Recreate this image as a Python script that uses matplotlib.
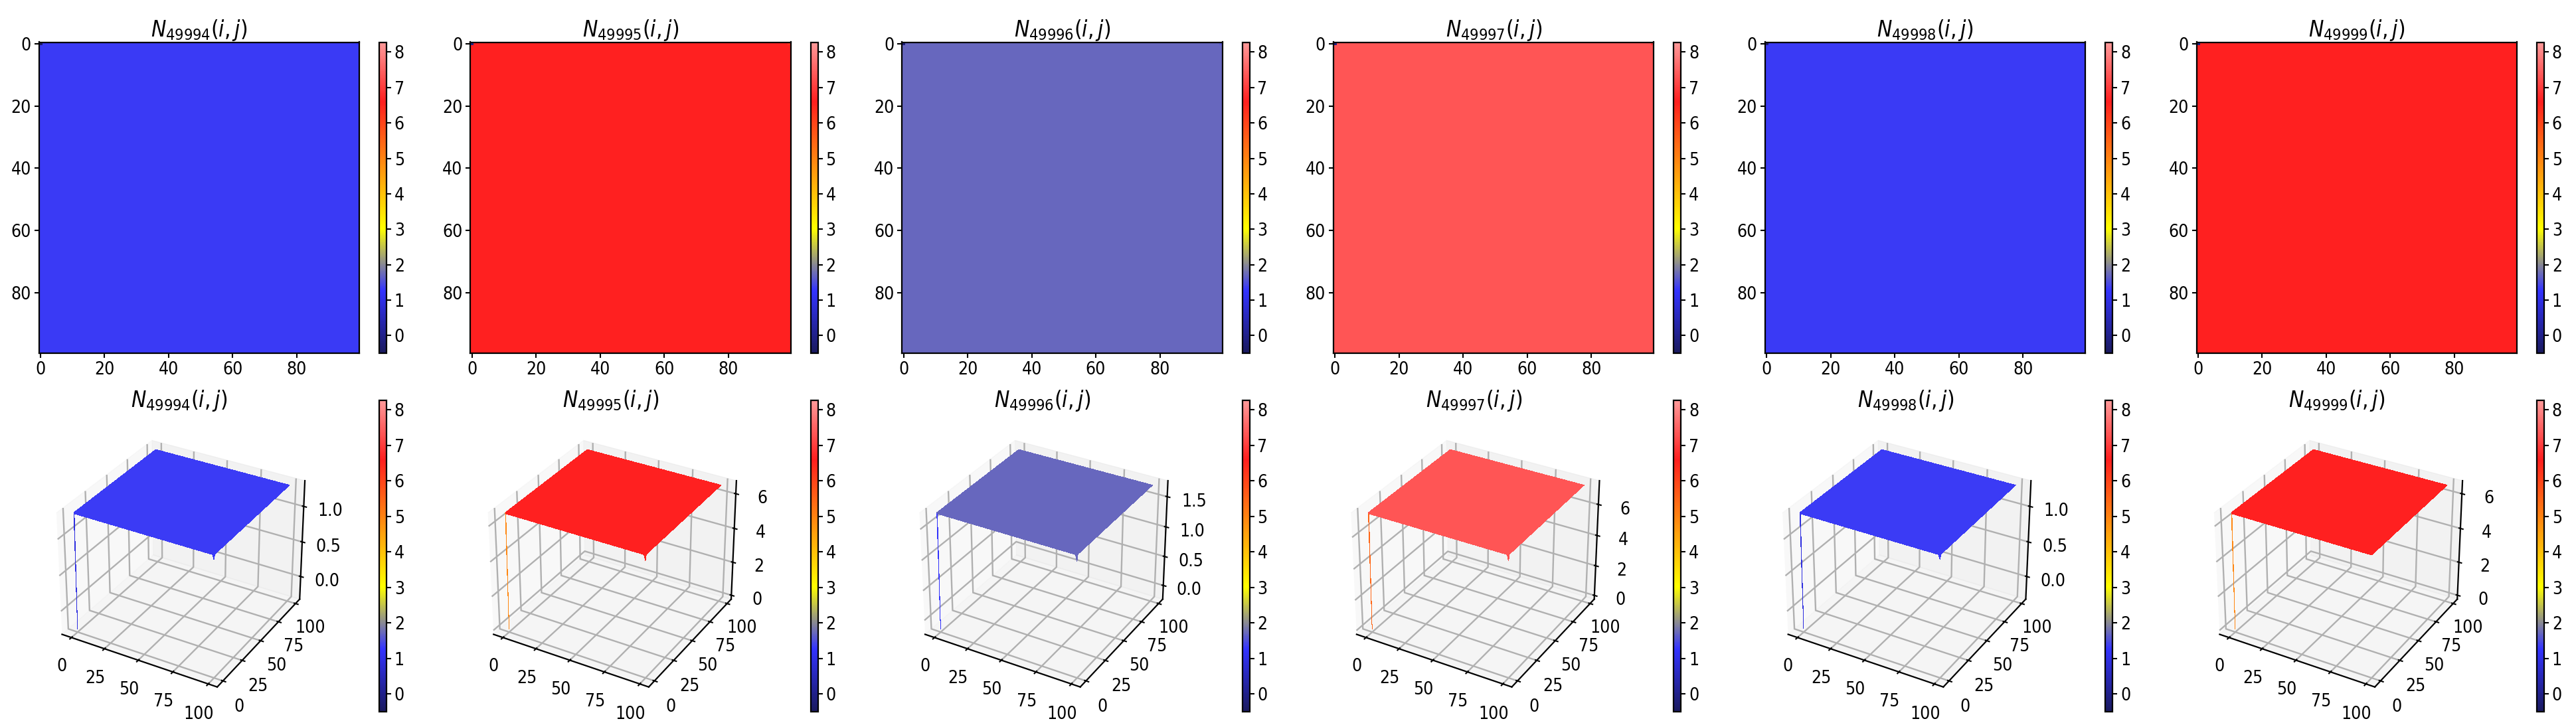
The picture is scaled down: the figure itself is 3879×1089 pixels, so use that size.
import matplotlib
matplotlib.use('Agg')
import matplotlib.pyplot as plt
import numpy as np
from matplotlib.colors import LinearSegmentedColormap

plt.rcParams['font.family'] = 'DejaVu Sans'
plt.rcParams['font.stretch'] = 'condensed'
plt.rcParams['font.size'] = 19
plt.rcParams['mathtext.fontset'] = 'custom'
plt.rcParams['mathtext.rm'] = 'DejaVu Sans:stretch=condensed'
plt.rcParams['mathtext.it'] = 'DejaVu Sans:italic:stretch=condensed'
plt.rcParams['axes.linewidth'] = 1.6
plt.rcParams['grid.linewidth'] = 1.7
plt.rcParams['xtick.major.size'] = 5
plt.rcParams['ytick.major.size'] = 5
plt.rcParams['xtick.major.width'] = 1.5
plt.rcParams['ytick.major.width'] = 1.5

# the six last steps, value of the flat field and of the two odd corners
steps = [49994, 49995, 49996, 49997, 49998, 49999]
field = [1.32, 6.6, 1.72, 7.35, 1.32, 6.6]
corner_00 = [-0.3, -0.1, -0.2, -0.1, -0.3, -0.1]
corner_x = [1.26, 6.3, 1.62, 7.0, 1.26, 6.6]
ztick_list = [[0.0, 0.5, 1.0], [0, 2, 4, 6], [0.0, 0.5, 1.0, 1.5], [0, 2, 4, 6], [0.0, 0.5, 1.0], [0, 2, 4, 6]]
cbar_ticks = [0, 1, 2, 3, 4, 5, 6, 7, 8]
vmin, vmax = -0.5, 8.28

cmap = LinearSegmentedColormap.from_list('field', [
    (0.0, '#1a1a5e'), (0.2, '#3333ff'), (0.40, '#ffff00'),
    (0.81, '#ff1f1f'), (1.0, '#ff9a9a')])

W, H = 3879., 1089.
col_step = 649.8


def box(x0, y0, x1, y1):
    return [x0 / W, 1 - y1 / H, (x1 - x0) / W, (y1 - y0) / H]


def make_grid(i):
    g = np.full((100, 100), field[i])
    g[0, 0] = corner_00[i]
    g[0, 99] = corner_x[i]
    return g


fig = plt.figure(figsize=(38.79, 10.89), dpi=100)

for i, step in enumerate(steps):
    dx = i * col_step
    grid = make_grid(i)
    title = r'$N_{%d}(i,j)$' % step

    ax = fig.add_axes(box(58.5 + dx, 63.5, 541 + dx, 532))
    im = ax.imshow(grid, cmap=cmap, vmin=vmin, vmax=vmax, aspect='auto', interpolation='nearest')
    ax.set_xticks([0, 20, 40, 60, 80])
    ax.set_yticks([0, 20, 40, 60, 80])
    ax.set_title(title, fontsize=24)
    cax = fig.add_axes(box(571 + dx, 63.5, 582 + dx, 532))
    cb = fig.colorbar(im, cax=cax)
    cb.set_ticks(cbar_ticks)

    ax3 = fig.add_axes(box(62 + dx, 630, 478 + dx, 1062), projection='3d')
    # keep the box as placed, not square
    ax3.apply_aspect = lambda position=None: None
    X, Y = np.meshgrid(np.arange(100), np.arange(100))
    ax3.plot_surface(X, Y, grid, cmap=cmap, vmin=vmin, vmax=vmax, rstride=1, cstride=1,
                     linewidth=0, antialiased=False)
    ax3.set_xticks([0, 25, 50, 75, 100])
    ax3.set_yticks([0, 25, 50, 75, 100])
    ax3.set_zticks(ztick_list[i])
    ax3.tick_params(axis='x', pad=8)
    ax3.tick_params(axis='y', pad=8)
    ax3.tick_params(axis='z', pad=10)
    fig.text((270 + dx) / W, 1 - 603 / H, title, fontsize=24, ha='center', va='center')
    cax = fig.add_axes(box(571 + dx, 602.5, 582 + dx, 1072))
    cb = fig.colorbar(im, cax=cax)
    cb.set_ticks(cbar_ticks)

fig.savefig('out.png', dpi=100)
